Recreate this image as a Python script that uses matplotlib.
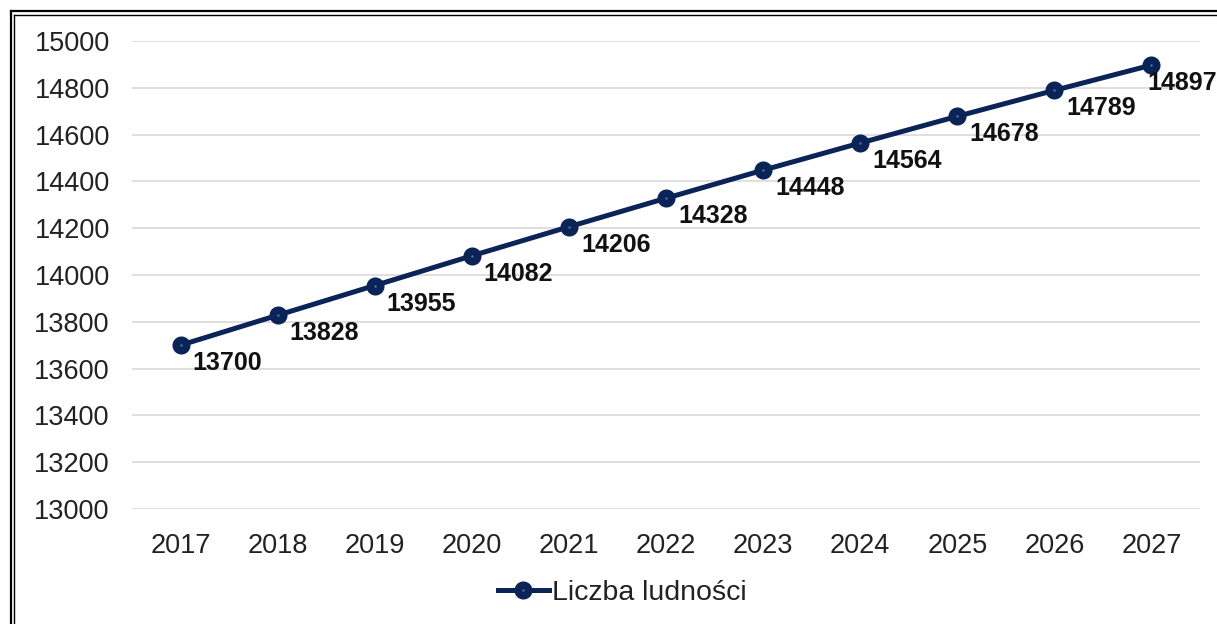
import matplotlib.pyplot as plt
from matplotlib.lines import Line2D

# dane
years = ['2017', '2018', '2019', '2020', '2021', '2022', '2023', '2024', '2025', '2026', '2027']
population = [13700, 13828, 13955, 14082, 14206, 14328, 14448, 14564, 14678, 14789, 14897]
series_name = 'Liczba ludności'
y_ticks = [13000, 13200, 13400, 13600, 13800, 14000, 14200, 14400, 14600, 14800, 15000]

plt.rcParams['font.family'] = ['Liberation Sans', 'DejaVu Sans']

W, H = 1217, 624
fig = plt.figure(figsize=(W / 100, H / 100), dpi=100)
ax = fig.add_axes([132 / W, 1 - 509 / H, (1200 - 132) / W, (509 - 41) / H])

navy = '#0a2458'
x = list(range(len(years)))
ax.plot(x, population, color=navy, linewidth=3.6, marker='o', markersize=7.5,
        markeredgewidth=5.5, markeredgecolor=navy, markerfacecolor='#4d6fa8',
        label=series_name, zorder=3, clip_on=False)

# etykiety danych
for i, v in enumerate(population):
    dx = 12 if i < len(population) - 1 else -4
    ax.annotate(str(v), (i, v), xytext=(dx, -18), textcoords='offset pixels',
                ha='left', va='center', fontsize=18, fontweight='bold', color='#111111')

ax.set_xlim(-0.5, len(years) - 0.5)
ax.set_ylim(13000, 15000)
ax.set_xticks(x)
ax.set_xticklabels(years)
ax.set_yticks(y_ticks)
ax.tick_params(axis='both', length=0, labelsize=19.5, labelcolor='#222222')
ax.tick_params(axis='y', pad=16)
ax.tick_params(axis='x', pad=17)
ax.grid(axis='y', color='#d9d9d9', linewidth=1.2)
ax.set_axisbelow(True)
for s in ax.spines.values():
    s.set_visible(False)

leg = fig.legend(loc='center', bbox_to_anchor=(622 / W, 1 - 593 / H), frameon=False,
                 fontsize=20.5, handlelength=1.8, handletextpad=0.1)
for t in leg.get_texts():
    t.set_color('#222222')

# podwójna ramka
for xp, lw in [(10.5, 1.6), (14.5, 1.0)]:
    fig.add_artist(Line2D([xp / W, xp / W], [0, 1 - xp / H], transform=fig.transFigure,
                          color='black', linewidth=lw))
    fig.add_artist(Line2D([xp / W, 1], [1 - xp / H, 1 - xp / H], transform=fig.transFigure,
                          color='black', linewidth=lw))

fig.savefig('out.png', dpi=100, facecolor='white')
